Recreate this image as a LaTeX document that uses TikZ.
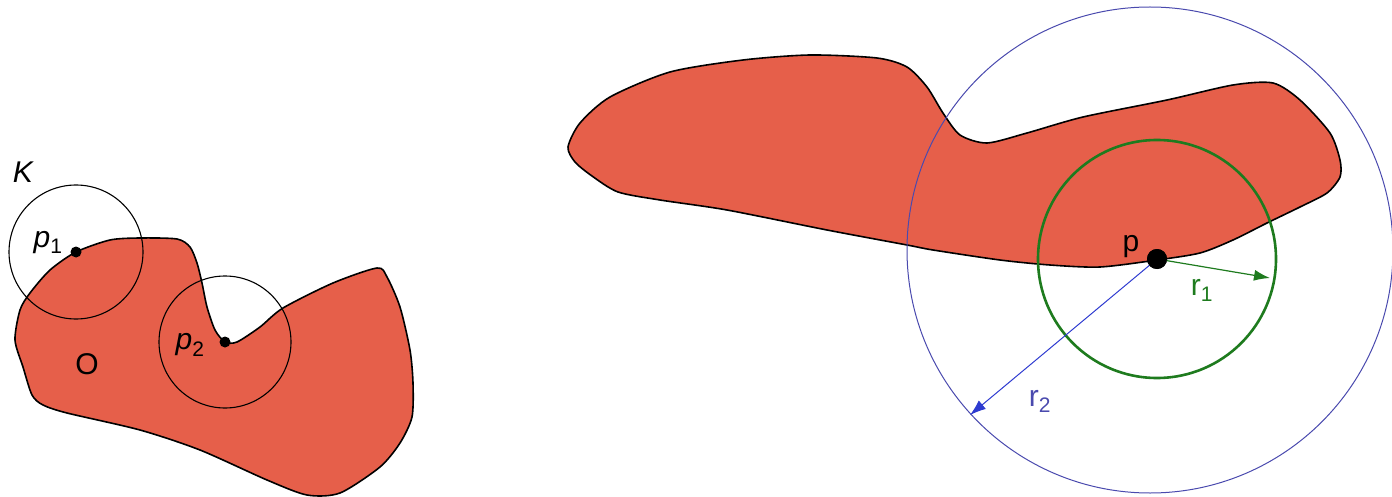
\documentclass[tikz,border=0pt]{standalone}
\usepackage{fontspec}
\setmainfont{Liberation Sans}
\usetikzlibrary{arrows.meta}
\definecolor{blobred}{HTML}{E65F4A}
\definecolor{ringgreen}{HTML}{1E7B1E}
\definecolor{ringblue}{HTML}{4A4AAE}
\definecolor{arrowblue}{HTML}{2E3BD0}

\tikzset{
  blob/.style={draw=black, line width=1.6pt, fill=blobred},
  ptdot/.style={circle, fill=black, inner sep=0pt, minimum size=#1},
  lbl/.style={inner sep=0pt, font=\fontsize{30}{30}\selectfont},
  thinring/.style={draw=black, line width=1.1pt},
}

\begin{document}
\begin{tikzpicture}[x=1pt, y=-1pt]
  \useasboundingbox (0,0) rectangle (1392,497);

  % left object O
  \draw[blob] plot[smooth cycle, tension=0.45] coordinates {
    (76,252) (110,240) (140,238) (177,239) (190,247) (197,263) (202,283)
    (207,307) (215,330) (225,342) (237,342) (260,327) (283,308) (333,283)
    (377,268) (387,277) (400,307) (410,350) (413,383) (412,417) (400,443)
    (380,467) (340,493) (307,495) (267,480) (200,450) (140,430) (67,413)
    (43,405) (32,395) (23,367) (15,340) (20,310) (30,293) (50,270)};

  % right object
  \draw[blob] plot[smooth cycle, tension=0.45] coordinates {
    (568,147) (580,123) (610,97) (670,72) (743,60) (810,55) (877,58)
    (907,67) (927,87) (943,113) (960,135) (987,143) (1027,133) (1083,117)
    (1167,100) (1233,85) (1273,83) (1300,100) (1330,133) (1340,160)
    (1340,177) (1327,193) (1300,207) (1267,223) (1233,240) (1200,253)
    (1157,260) (1100,267) (1050,265) (1000,260) (933,250) (907,245)
    (827,230) (727,210) (660,200) (618,192) (592,176) (575,162)};

  % points on the boundary
  \node[ptdot=11pt] (p1) at (76,252) {};
  \node[ptdot=11pt] (p2) at (225,342) {};
  \draw[thinring] (p1) circle (67);
  \draw[thinring] (p2) circle (66);

  \node[lbl] (lblK) at (23,172) {\itshape K};
  \node[lbl] (lblp1) at (48,243) {\textit{p}\textsubscript{1}};
  \node[lbl] (lblp2) at (190,345) {\textit{p}\textsubscript{2}};
  \node[lbl] (lblO) at (87,364) {O};

  % balls round p
  \coordinate (c2) at (1150,250);
  \coordinate (r1end) at (1270,278);
  \coordinate (r2end) at (970,415);
  \draw[ringblue, line width=1pt] (c2) circle (243);
  \node[ptdot=20pt] (p) at (1157,259) {};
  \draw[ringgreen, line width=2.6pt] (p.center) circle (119);
  \draw[ringgreen, line width=1.2pt, -{Latex[length=16pt,width=11pt]}] (p.center) -- (r1end);
  \draw[ringblue, line width=1pt, -{Latex[length=16pt,width=11pt]}, arrowblue] (p.center) -- (r2end);
  \node[ptdot=20pt] at (p) {};

  \node[lbl] (lblp) at (1131,247) {p};
  \node[lbl, text=ringgreen] (lblr1) at (1202,290) {r\textsubscript{1}};
  \node[lbl, text=ringblue] (lblr2) at (1040,401) {r\textsubscript{2}};
\end{tikzpicture}
\end{document}
